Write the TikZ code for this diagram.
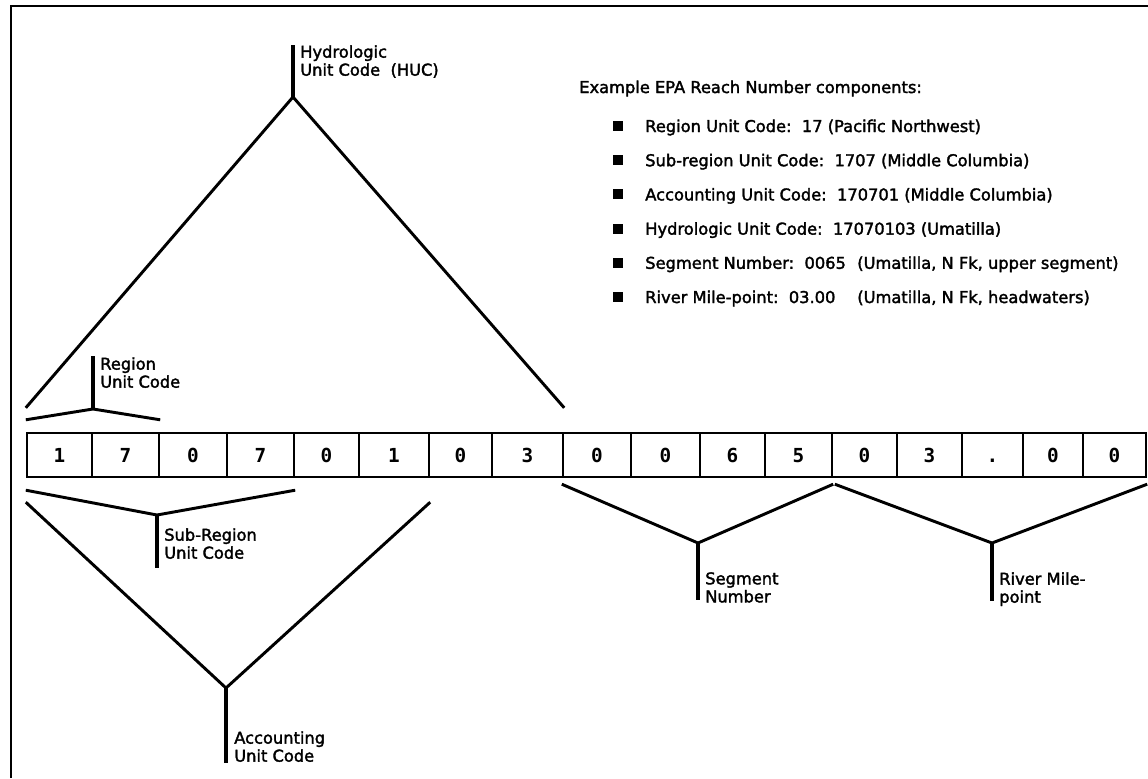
\documentclass[tikz,border=0pt]{standalone}
\usepackage{fontspec}
\setmainfont[FakeBold=2]{DejaVu Sans}
\newfontfamily\digitfont{DejaVu Sans Mono Bold}
\usetikzlibrary{positioning}

\begin{document}
\begin{tikzpicture}[x=0.75pt, y=-0.75pt,
  cell/.style={draw, line width=1.8pt, minimum height=33pt, inner sep=0pt,
    text height=10.5pt, text depth=0pt,
    font=\digitfont\fontsize{14.5}{14.5}\selectfont},
  leg/.style={line width=2.2pt},
  stem/.style={line width=2.6pt},
  lbl/.style={anchor=north west, inner sep=0pt, align=left,
    font=\fontsize{12.2}{13.5}\selectfont},
  item/.style={anchor=base west, inner sep=0pt, font=\fontsize{12.2}{13.5}\selectfont},
  bullet/.style={fill, minimum size=7.5pt, inner sep=0pt}]

\useasboundingbox (0,0) rectangle (1148,778);
\draw [line width=1.8pt] (11,778) -- (11,6) -- (1148,6);

% the reach number, one box per digit
\foreach \i/\l/\r/\d in {1/27/92/1, 2/92/159/7, 3/159/227/0, 4/227/294/7, 5/294/359/0,
    6/359/429/1, 7/429/492/0, 8/492/563/3, 9/563/631/0, 10/631/700/0, 11/700/765/6,
    12/765/832/5, 13/832/897/0, 14/897/962/3, 15/962/1023/., 16/1023/1083/0, 17/1083/1146/0} {
        \node[cell, minimum width={(\r-\l)*0.75pt}] (c\i) at ({(\l+\r)/2},455) {\d};
    }

% hydrologic unit
\coordinate (huctip) at (293,97);
\coordinate (huctop) at (293,45);
\draw [leg] ([yshift=18pt]c1.north west) -- (huctip) -- ([yshift=18pt]c8.north east);
\draw [stem] (huctip) -- (huctop);
\node[lbl] (huclbl) at (300,45) {Hydrologic\\Unit Code\ \ (HUC)};

% region
\coordinate (rgtip) at (93,409);
\coordinate (rgtop) at (93,356);
\draw [leg] ([yshift=9pt]c1.north west) -- (rgtip) -- ([yshift=9pt]c2.north east);
\draw [stem] (rgtip) -- (rgtop);
\node[lbl] (rglbl) at (100,357) {Region\\Unit Code};

% sub-region
\coordinate (sbtip) at (157,515);
\coordinate (sbend) at (157,568);
\draw [leg] ([yshift=-9pt]c1.south west) -- (sbtip) -- ([yshift=-9pt]c4.south east);
\draw [stem] (sbtip) -- (sbend);
\node[lbl] (sblbl) at (164,528) {Sub-Region\\Unit Code};

% accounting unit
\coordinate (actip) at (226,688);
\coordinate (acend) at (226,763);
\draw [leg] ([yshift=-18pt]c1.south west) -- (actip) -- ([yshift=-18pt]c6.south east);
\draw [stem] (actip) -- (acend);
\node[lbl] (aclbl) at (234,731) {Accounting\\Unit Code};

% segment
\coordinate (sgtip) at (698,543);
\coordinate (sgend) at (698,600);
\draw [leg] ([yshift=-4.5pt]c9.south west) -- (sgtip) -- ([yshift=-4.5pt]c12.south east);
\draw [stem] (sgtip) -- (sgend);
\node[lbl] (sglbl) at (705,572) {Segment\\Number};

% river mile-point
\coordinate (rmtip) at (992,543);
\coordinate (rmend) at (992,601);
\draw [leg] ([xshift=3pt,yshift=-4.5pt]c13.south west) -- (rmtip) -- ([yshift=-4.5pt]c17.south east);
\draw [stem] (rmtip) -- (rmend);
\node[lbl] (rmlbl) at (999,572) {River Mile-\\point};

% list of components
\node[item] (title) at (579,93) {Example EPA Reach Number components:};
\foreach \k/\t in {0/{Region Unit Code:\ \ 17 (Pacific Northwest)},
    1/{Sub-region Unit Code:\ \ 1707 (Middle Columbia)},
    2/{Accounting Unit Code:\ \ 170701 (Middle Columbia)},
    3/{Hydrologic Unit Code:\ \ 17070103 (Umatilla)},
    4/{\makebox[159pt][l]{Segment Number:\ \ 0065}(Umatilla, N Fk, upper segment)},
    5/{\makebox[159pt][l]{River Mile-point:\ \ 03.00}(Umatilla, N Fk, headwaters)}} {
        \node[bullet] (b\k) at (618,{126+34.2*\k}) {};
        \node[item] (r\k) at (645,{132+34.2*\k}) {\t};
    }

\end{tikzpicture}
\end{document}
